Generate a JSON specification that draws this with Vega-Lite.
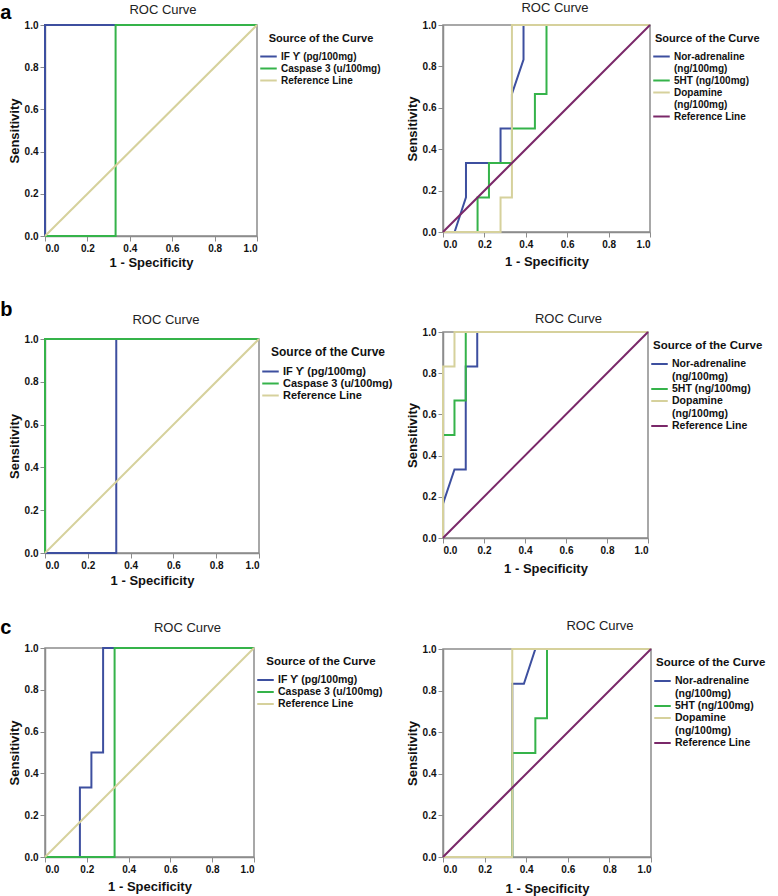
{
  "$schema": "https://vega.github.io/schema/vega-lite/v6.json",
  "padding": 0,
  "background": "white",
  "config": {
    "font": "Liberation Sans",
    "view": {"stroke": "#8c8c8c", "strokeWidth": 1.5},
    "axis": {"grid": false, "domainColor": "#8c8c8c", "domainWidth": 1.5, "tickColor": "#8c8c8c", "tickSize": 5, "labelFont": "Liberation Sans", "labelFontWeight": "bold", "labelFontSize": 10, "labelColor": "#111", "labelPadding": 2, "titleFont": "Liberation Sans", "titleFontWeight": "bold", "titleFontSize": 13, "titleColor": "#111"},
    "axisY": {"titlePadding": 3},
    "legend": {"symbolType": "M-1.5,0H1.5", "symbolStrokeWidth": 3, "symbolSize": 121, "labelFont": "Liberation Sans", "labelFontWeight": "bold", "labelFontSize": 10, "labelColor": "#111", "titleFont": "Liberation Sans", "titleFontWeight": "bold", "titleFontSize": 11, "titleColor": "#111", "padding": 8, "offset": -7, "labelOffset": 6, "rowPadding": 0, "titlePadding": 6, "labelLimit": 300},
    "title": {"font": "Liberation Sans", "fontSize": 13, "fontWeight": "normal", "color": "#222"},
    "line": {"strokeWidth": 2}
  },
  "datasets": {
    "aL": [
      {"s": "IF ϒ (pg/100mg)", "i": 0, "x": 0, "y": 0},
      {"s": "IF ϒ (pg/100mg)", "i": 1, "x": 0, "y": 1},
      {"s": "IF ϒ (pg/100mg)", "i": 2, "x": 1, "y": 1},
      {"s": "Caspase 3 (u/100mg)", "i": 0, "x": 0, "y": 0},
      {"s": "Caspase 3 (u/100mg)", "i": 1, "x": 0.333, "y": 0},
      {"s": "Caspase 3 (u/100mg)", "i": 2, "x": 0.333, "y": 1},
      {"s": "Caspase 3 (u/100mg)", "i": 3, "x": 1, "y": 1},
      {"s": "Reference Line", "i": 0, "x": 0, "y": 0},
      {"s": "Reference Line", "i": 1, "x": 1, "y": 1}
    ],
    "aR": [
      {"s": "Nor-adrenaline (ng/100mg)", "i": 0, "x": 0, "y": 0},
      {"s": "Nor-adrenaline (ng/100mg)", "i": 1, "x": 0.056, "y": 0},
      {"s": "Nor-adrenaline (ng/100mg)", "i": 2, "x": 0.111, "y": 0.167},
      {"s": "Nor-adrenaline (ng/100mg)", "i": 3, "x": 0.111, "y": 0.333},
      {"s": "Nor-adrenaline (ng/100mg)", "i": 4, "x": 0.278, "y": 0.333},
      {"s": "Nor-adrenaline (ng/100mg)", "i": 5, "x": 0.278, "y": 0.5},
      {"s": "Nor-adrenaline (ng/100mg)", "i": 6, "x": 0.333, "y": 0.5},
      {"s": "Nor-adrenaline (ng/100mg)", "i": 7, "x": 0.333, "y": 0.667},
      {"s": "Nor-adrenaline (ng/100mg)", "i": 8, "x": 0.389, "y": 0.833},
      {"s": "Nor-adrenaline (ng/100mg)", "i": 9, "x": 0.389, "y": 1},
      {"s": "Nor-adrenaline (ng/100mg)", "i": 10, "x": 1, "y": 1},
      {"s": "5HT (ng/100mg)", "i": 0, "x": 0, "y": 0},
      {"s": "5HT (ng/100mg)", "i": 1, "x": 0.167, "y": 0},
      {"s": "5HT (ng/100mg)", "i": 2, "x": 0.167, "y": 0.167},
      {"s": "5HT (ng/100mg)", "i": 3, "x": 0.222, "y": 0.167},
      {"s": "5HT (ng/100mg)", "i": 4, "x": 0.222, "y": 0.333},
      {"s": "5HT (ng/100mg)", "i": 5, "x": 0.333, "y": 0.333},
      {"s": "5HT (ng/100mg)", "i": 6, "x": 0.333, "y": 0.5},
      {"s": "5HT (ng/100mg)", "i": 7, "x": 0.444, "y": 0.5},
      {"s": "5HT (ng/100mg)", "i": 8, "x": 0.444, "y": 0.667},
      {"s": "5HT (ng/100mg)", "i": 9, "x": 0.5, "y": 0.667},
      {"s": "5HT (ng/100mg)", "i": 10, "x": 0.5, "y": 1},
      {"s": "5HT (ng/100mg)", "i": 11, "x": 1, "y": 1},
      {"s": "Dopamine (ng/100mg)", "i": 0, "x": 0, "y": 0},
      {"s": "Dopamine (ng/100mg)", "i": 1, "x": 0.278, "y": 0},
      {"s": "Dopamine (ng/100mg)", "i": 2, "x": 0.278, "y": 0.167},
      {"s": "Dopamine (ng/100mg)", "i": 3, "x": 0.333, "y": 0.167},
      {"s": "Dopamine (ng/100mg)", "i": 4, "x": 0.333, "y": 1},
      {"s": "Dopamine (ng/100mg)", "i": 5, "x": 1, "y": 1},
      {"s": "Reference Line", "i": 0, "x": 0, "y": 0},
      {"s": "Reference Line", "i": 1, "x": 1, "y": 1}
    ],
    "bL": [
      {"s": "IF ϒ (pg/100mg)", "i": 0, "x": 0, "y": 0},
      {"s": "IF ϒ (pg/100mg)", "i": 1, "x": 0.333, "y": 0},
      {"s": "IF ϒ (pg/100mg)", "i": 2, "x": 0.333, "y": 1},
      {"s": "IF ϒ (pg/100mg)", "i": 3, "x": 1, "y": 1},
      {"s": "Caspase 3 (u/100mg)", "i": 0, "x": 0, "y": 0},
      {"s": "Caspase 3 (u/100mg)", "i": 1, "x": 0, "y": 1},
      {"s": "Caspase 3 (u/100mg)", "i": 2, "x": 1, "y": 1},
      {"s": "Reference Line", "i": 0, "x": 0, "y": 0},
      {"s": "Reference Line", "i": 1, "x": 1, "y": 1}
    ],
    "bR": [
      {"s": "Nor-adrenaline (ng/100mg)", "i": 0, "x": 0, "y": 0},
      {"s": "Nor-adrenaline (ng/100mg)", "i": 1, "x": 0, "y": 0.167},
      {"s": "Nor-adrenaline (ng/100mg)", "i": 2, "x": 0.056, "y": 0.333},
      {"s": "Nor-adrenaline (ng/100mg)", "i": 3, "x": 0.111, "y": 0.333},
      {"s": "Nor-adrenaline (ng/100mg)", "i": 4, "x": 0.111, "y": 0.833},
      {"s": "Nor-adrenaline (ng/100mg)", "i": 5, "x": 0.167, "y": 0.833},
      {"s": "Nor-adrenaline (ng/100mg)", "i": 6, "x": 0.167, "y": 1},
      {"s": "Nor-adrenaline (ng/100mg)", "i": 7, "x": 1, "y": 1},
      {"s": "5HT (ng/100mg)", "i": 0, "x": 0, "y": 0},
      {"s": "5HT (ng/100mg)", "i": 1, "x": 0, "y": 0.5},
      {"s": "5HT (ng/100mg)", "i": 2, "x": 0.056, "y": 0.5},
      {"s": "5HT (ng/100mg)", "i": 3, "x": 0.056, "y": 0.667},
      {"s": "5HT (ng/100mg)", "i": 4, "x": 0.111, "y": 0.667},
      {"s": "5HT (ng/100mg)", "i": 5, "x": 0.111, "y": 1},
      {"s": "5HT (ng/100mg)", "i": 6, "x": 1, "y": 1},
      {"s": "Dopamine (ng/100mg)", "i": 0, "x": 0, "y": 0},
      {"s": "Dopamine (ng/100mg)", "i": 1, "x": 0, "y": 0.833},
      {"s": "Dopamine (ng/100mg)", "i": 2, "x": 0.056, "y": 0.833},
      {"s": "Dopamine (ng/100mg)", "i": 3, "x": 0.056, "y": 1},
      {"s": "Dopamine (ng/100mg)", "i": 4, "x": 1, "y": 1},
      {"s": "Reference Line", "i": 0, "x": 0, "y": 0},
      {"s": "Reference Line", "i": 1, "x": 1, "y": 1}
    ],
    "cL": [
      {"s": "IF ϒ (pg/100mg)", "i": 0, "x": 0, "y": 0},
      {"s": "IF ϒ (pg/100mg)", "i": 1, "x": 0.167, "y": 0},
      {"s": "IF ϒ (pg/100mg)", "i": 2, "x": 0.167, "y": 0.333},
      {"s": "IF ϒ (pg/100mg)", "i": 3, "x": 0.222, "y": 0.333},
      {"s": "IF ϒ (pg/100mg)", "i": 4, "x": 0.222, "y": 0.5},
      {"s": "IF ϒ (pg/100mg)", "i": 5, "x": 0.278, "y": 0.5},
      {"s": "IF ϒ (pg/100mg)", "i": 6, "x": 0.278, "y": 1},
      {"s": "IF ϒ (pg/100mg)", "i": 7, "x": 1, "y": 1},
      {"s": "Caspase 3 (u/100mg)", "i": 0, "x": 0, "y": 0},
      {"s": "Caspase 3 (u/100mg)", "i": 1, "x": 0.333, "y": 0},
      {"s": "Caspase 3 (u/100mg)", "i": 2, "x": 0.333, "y": 1},
      {"s": "Caspase 3 (u/100mg)", "i": 3, "x": 1, "y": 1},
      {"s": "Reference Line", "i": 0, "x": 0, "y": 0},
      {"s": "Reference Line", "i": 1, "x": 1, "y": 1}
    ],
    "cR": [
      {"s": "Nor-adrenaline (ng/100mg)", "i": 0, "x": 0, "y": 0},
      {"s": "Nor-adrenaline (ng/100mg)", "i": 1, "x": 0.333, "y": 0},
      {"s": "Nor-adrenaline (ng/100mg)", "i": 2, "x": 0.333, "y": 0.833},
      {"s": "Nor-adrenaline (ng/100mg)", "i": 3, "x": 0.389, "y": 0.833},
      {"s": "Nor-adrenaline (ng/100mg)", "i": 4, "x": 0.444, "y": 1},
      {"s": "Nor-adrenaline (ng/100mg)", "i": 5, "x": 1, "y": 1},
      {"s": "5HT (ng/100mg)", "i": 0, "x": 0, "y": 0},
      {"s": "5HT (ng/100mg)", "i": 1, "x": 0.333, "y": 0},
      {"s": "5HT (ng/100mg)", "i": 2, "x": 0.333, "y": 0.5},
      {"s": "5HT (ng/100mg)", "i": 3, "x": 0.444, "y": 0.5},
      {"s": "5HT (ng/100mg)", "i": 4, "x": 0.444, "y": 0.667},
      {"s": "5HT (ng/100mg)", "i": 5, "x": 0.5, "y": 0.667},
      {"s": "5HT (ng/100mg)", "i": 6, "x": 0.5, "y": 1},
      {"s": "5HT (ng/100mg)", "i": 7, "x": 1, "y": 1},
      {"s": "Dopamine (ng/100mg)", "i": 0, "x": 0, "y": 0},
      {"s": "Dopamine (ng/100mg)", "i": 1, "x": 0.333, "y": 0},
      {"s": "Dopamine (ng/100mg)", "i": 2, "x": 0.333, "y": 1},
      {"s": "Dopamine (ng/100mg)", "i": 3, "x": 1, "y": 1},
      {"s": "Reference Line", "i": 0, "x": 0, "y": 0},
      {"s": "Reference Line", "i": 1, "x": 1, "y": 1}
    ]
  },
  "columns": 2,
  "align": "none",
  "spacing": 3,
  "resolve": {"scale": {"color": "independent"}},
  "concat": [
    {
      "spacing": 29,
      "resolve": {"scale": {"color": "independent"}},
      "vconcat": [
        {
          "title": {"text": "a", "anchor": "start", "frame": "bounds", "fontSize": 20, "fontWeight": "bold", "color": "#000", "offset": -20.5, "dx": -7},
          "resolve": {"scale": {"color": "independent"}},
          "vconcat": [
            {
              "width": 212, "height": 211,
              "title": {"text": "ROC Curve", "offset": 3.5, "dx": 12},
              "data": {"name": "aL"},
              "mark": {"type": "line", "strokeWidth": 2},
              "encoding": {
                "x": {"field": "x", "type": "quantitative", "scale": {"domain": [0, 1]}, "axis": {"title": "1 - Specificity", "values": [0, 0.2, 0.4, 0.6, 0.8, 1], "format": ".1f", "titlePadding": 3}},
                "y": {"field": "y", "type": "quantitative", "scale": {"domain": [0, 1]}, "axis": {"title": "Sensitivity", "values": [0, 0.2, 0.4, 0.6, 0.8, 1], "format": ".1f"}},
                "color": {"field": "s", "type": "nominal", "scale": {"domain": ["IF ϒ (pg/100mg)", "Caspase 3 (u/100mg)", "Reference Line"], "range": ["#3d4f9f", "#35b34a", "#d6d19c"]}, "legend": {"title": "Source of the Curve", "titleAnchor": "middle"}},
                "order": {"field": "i", "type": "quantitative"}
              }
            }
          ]
        },
        {
          "title": {"text": "b", "anchor": "start", "frame": "bounds", "fontSize": 20, "fontWeight": "bold", "color": "#000", "offset": -7, "dx": -7},
          "resolve": {"scale": {"color": "independent"}},
          "vconcat": [
            {
              "width": 214, "height": 214,
              "title": {"text": "ROC Curve", "offset": 7.5, "dx": 14},
              "data": {"name": "bL"},
              "mark": {"type": "line", "strokeWidth": 2},
              "encoding": {
                "x": {"field": "x", "type": "quantitative", "scale": {"domain": [0, 1]}, "axis": {"title": "1 - Specificity", "values": [0, 0.2, 0.4, 0.6, 0.8, 1], "format": ".1f", "titlePadding": 4}},
                "y": {"field": "y", "type": "quantitative", "scale": {"domain": [0, 1]}, "axis": {"title": "Sensitivity", "values": [0, 0.2, 0.4, 0.6, 0.8, 1], "format": ".1f"}},
                "color": {"field": "s", "type": "nominal", "scale": {"domain": ["IF ϒ (pg/100mg)", "Caspase 3 (u/100mg)", "Reference Line"], "range": ["#3d4f9f", "#35b34a", "#d6d19c"]}, "legend": {"title": "Source of the Curve", "titleAnchor": "middle", "labelFontSize": 11, "titleFontSize": 12}},
                "order": {"field": "i", "type": "quantitative"}
              }
            }
          ]
        },
        {
          "title": {"text": "c", "anchor": "start", "frame": "bounds", "fontSize": 20, "fontWeight": "bold", "color": "#000", "offset": -17, "dx": -7},
          "resolve": {"scale": {"color": "independent"}},
          "vconcat": [
            {
              "width": 209, "height": 209,
              "title": {"text": "ROC Curve", "offset": 8.5, "dx": 38},
              "data": {"name": "cL"},
              "mark": {"type": "line", "strokeWidth": 2},
              "encoding": {
                "x": {"field": "x", "type": "quantitative", "scale": {"domain": [0, 1]}, "axis": {"title": "1 - Specificity", "values": [0, 0.2, 0.4, 0.6, 0.8, 1], "format": ".1f", "titlePadding": 6}},
                "y": {"field": "y", "type": "quantitative", "scale": {"domain": [0, 1]}, "axis": {"title": "Sensitivity", "values": [0, 0.2, 0.4, 0.6, 0.8, 1], "format": ".1f"}},
                "color": {"field": "s", "type": "nominal", "scale": {"domain": ["IF ϒ (pg/100mg)", "Caspase 3 (u/100mg)", "Reference Line"], "range": ["#3d4f9f", "#35b34a", "#d6d19c"]}, "legend": {"title": "Source of the Curve", "titleAnchor": "middle", "labelFontSize": 10.5, "titleFontSize": 11.5}},
                "order": {"field": "i", "type": "quantitative"}
              }
            }
          ]
        }
      ]
    },
    {
      "spacing": 42,
      "resolve": {"scale": {"color": "independent"}},
      "vconcat": [
        {
          "width": 207, "height": 207,
          "title": {"text": "ROC Curve", "offset": 5.5, "dx": 8.5},
          "data": {"name": "aR"},
          "mark": {"type": "line", "strokeWidth": 2},
          "encoding": {
            "x": {"field": "x", "type": "quantitative", "scale": {"domain": [0, 1]}, "axis": {"title": "1 - Specificity", "values": [0, 0.2, 0.4, 0.6, 0.8, 1], "format": ".1f", "titlePadding": 6}},
            "y": {"field": "y", "type": "quantitative", "scale": {"domain": [0, 1]}, "axis": {"title": "Sensitivity", "values": [0, 0.2, 0.4, 0.6, 0.8, 1], "format": ".1f"}},
            "color": {"field": "s", "type": "nominal", "scale": {"domain": ["Nor-adrenaline (ng/100mg)", "5HT (ng/100mg)", "Dopamine (ng/100mg)", "Reference Line"], "range": ["#3d4f9f", "#35b34a", "#d6d19c", "#7a2869"]}, "legend": {"title": "\u00a0\u00a0\u00a0Source of the Curve", "labelExpr": "indexof(datum.label, 'adrenaline') >= 0 || indexof(datum.label, 'Dopamine') >= 0 ? split(datum.label, ' ') : datum.label"}},
            "order": {"field": "i", "type": "quantitative"}
          }
        },
        {
          "width": 205, "height": 206,
          "title": {"text": "ROC Curve", "offset": 1.5, "dx": 23},
          "data": {"name": "bR"},
          "mark": {"type": "line", "strokeWidth": 2},
          "encoding": {
            "x": {"field": "x", "type": "quantitative", "scale": {"domain": [0, 1]}, "axis": {"title": "1 - Specificity", "values": [0, 0.2, 0.4, 0.6, 0.8, 1], "format": ".1f", "titlePadding": 7}},
            "y": {"field": "y", "type": "quantitative", "scale": {"domain": [0, 1]}, "axis": {"title": "Sensitivity", "values": [0, 0.2, 0.4, 0.6, 0.8, 1], "format": ".1f"}},
            "color": {"field": "s", "type": "nominal", "scale": {"domain": ["Nor-adrenaline (ng/100mg)", "5HT (ng/100mg)", "Dopamine (ng/100mg)", "Reference Line"], "range": ["#3d4f9f", "#35b34a", "#d6d19c", "#7a2869"]}, "legend": {"title": "\u00a0\u00a0Source of the Curve", "labelFontSize": 10.5, "titleFontSize": 11.5, "labelExpr": "indexof(datum.label, 'adrenaline') >= 0 || indexof(datum.label, 'Dopamine') >= 0 ? split(datum.label, ' ') : datum.label"}},
            "order": {"field": "i", "type": "quantitative"}
          }
        },
        {
          "width": 208, "height": 208,
          "title": {"text": "ROC Curve", "offset": 11.5, "dx": 53},
          "data": {"name": "cR"},
          "mark": {"type": "line", "strokeWidth": 2},
          "encoding": {
            "x": {"field": "x", "type": "quantitative", "scale": {"domain": [0, 1]}, "axis": {"title": "1 - Specificity", "values": [0, 0.2, 0.4, 0.6, 0.8, 1], "format": ".1f", "titlePadding": 8}},
            "y": {"field": "y", "type": "quantitative", "scale": {"domain": [0, 1]}, "axis": {"title": "Sensitivity", "values": [0, 0.2, 0.4, 0.6, 0.8, 1], "format": ".1f"}},
            "color": {"field": "s", "type": "nominal", "scale": {"domain": ["Nor-adrenaline (ng/100mg)", "5HT (ng/100mg)", "Dopamine (ng/100mg)", "Reference Line"], "range": ["#3d4f9f", "#35b34a", "#d6d19c", "#7a2869"]}, "legend": {"title": "\u00a0\u00a0Source of the Curve", "labelFontSize": 10.5, "titleFontSize": 11.5, "labelExpr": "indexof(datum.label, 'adrenaline') >= 0 || indexof(datum.label, 'Dopamine') >= 0 ? split(datum.label, ' ') : datum.label"}},
            "order": {"field": "i", "type": "quantitative"}
          }
        }
      ]
    }
  ]
}
